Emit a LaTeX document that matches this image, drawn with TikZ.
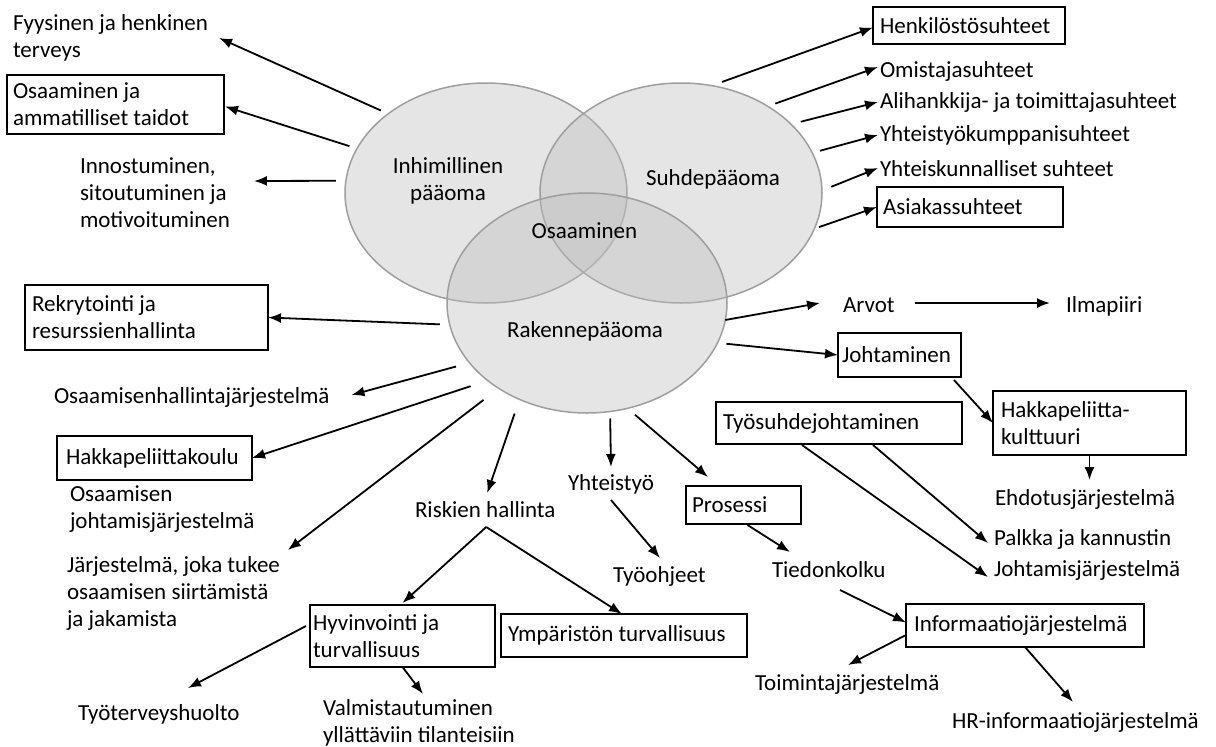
\documentclass[tikz,border=0pt]{standalone}
\usepackage{fontspec}
\setmainfont{Carlito}
\usetikzlibrary{arrows.meta,calc,shapes.geometric}
\definecolor{ellfill}{gray}{0.745}
\definecolor{elldraw}{gray}{0.62}
\newcommand{\mlL}[1]{\begin{tabular}[t]{@{}l@{}}#1\end{tabular}}
\newcommand{\mlC}[1]{\begin{tabular}[t]{@{}c@{}}#1\end{tabular}}
\begin{document}
\begin{tikzpicture}[x=1pt,y=-1pt,
  every node/.style={font=\fontsize{23}{27}\selectfont, inner sep=0pt, outer sep=0pt},
  txt/.style={anchor=base west},
  lbl/.style={anchor=base},
  bx/.style={draw, line width=2.2pt, anchor=north west, inner ysep=0pt, align=flush left},
  ell/.style={ellipse, draw=elldraw, line width=1.5pt, fill=ellfill, fill opacity=0.4,
              minimum width=282pt, minimum height=220pt},
  arr/.style={-{Latex[length=13pt,width=10pt]}, line width=1.8pt}]
\useasboundingbox (0,0) rectangle (1216,747);

% ellipses
\node[ell] (hum) at (486,193) {};
\node[ell] (suh) at (681,193) {};
\node[ell, minimum width=280pt] (rak) at (587,303) {};
\node[lbl] (humL) at (448,173) {\mlC{Inhimillinen\\pääoma}};
\node[lbl] (suhL) at (713,185) {Suhdepääoma};
\node[lbl] (osm) at (584.5,238) {Osaaminen};
\node[lbl] (rakL) at (585,337) {Rakennepääoma};

% left / human capital
\node[txt] (fyy) at (13,30) {\mlL{Fyysinen ja henkinen\\terveys}};
\node[bx, text width=205pt, inner xsep=6pt, minimum height=59pt] (osa) at (7,75) {Osaaminen ja\\ammatilliset taidot};
\node[txt] (inn) at (80,173) {\mlL{Innostuminen,\\sitoutuminen ja\\motivoituminen}};

% right / relational capital
\node[bx, text width=178pt, inner xsep=7pt, minimum height=37pt] (hen) at (873,7) {Henkilöstösuhteet};
\node[txt] (omi) at (880,77) {Omistajasuhteet};
\node[txt] (ali) at (880,108) {Alihankkija- ja toimittajasuhteet};
\node[txt] (yhk) at (880,141) {Yhteistyökumppanisuhteet};
\node[txt] (yhs) at (880,176) {Yhteiskunnalliset suhteet};
\node[bx, text width=174pt, inner xsep=6pt, minimum height=40pt] (asi) at (877,187) {Asiakassuhteet};

% structural capital, left and bottom
\node[bx, text width=229pt, inner xsep=7pt, minimum height=65pt] (rek) at (25,285) {Rekrytointi ja\\resurssienhallinta};
\node[txt] (ohj) at (54,403) {Osaamisenhallintajärjestelmä};
\node[bx, text width=177pt, inner xsep=9pt, minimum height=44pt] (hkk) at (57,436) {Hakkapeliittakoulu};
\node[txt] (osj) at (70,501) {\mlL{Osaamisen\\johtamisjärjestelmä}};
\node[txt] (jar) at (67,572) {\mlL{Järjestelmä, joka tukee\\osaamisen siirtämistä\\ja jakamista}};
\node[txt] (ris) at (415,517) {Riskien hallinta};
\node[bx, text width=179pt, inner xsep=3pt, minimum height=62pt] (hyv) at (310,605) {Hyvinvointi ja\\turvallisuus};
\node[bx, text width=232pt, inner xsep=7pt, minimum height=43pt] (ymp) at (501,614) {Ympäristön turvallisuus};
\node[txt] (tt) at (78,720) {Työterveyshuolto};
\node[txt] (val) at (323,715) {\mlL{Valmistautuminen\\yllättäviin tilanteisiin}};
\node[txt] (yht) at (568,490) {Yhteistyö};
\node[txt] (tyh) at (613,582) {Työohjeet};
\node[bx, text width=103pt, inner xsep=6pt, minimum height=38pt] (pro) at (686,486) {Prosessi};
\node[txt] (tie) at (772,577) {Tiedonkolku};
\node[bx, text width=232pt, inner xsep=7pt, minimum height=42pt] (tyo) at (716,402) {Työsuhdejohtaminen};
\node[txt] (pal) at (994,545) {Palkka ja kannustin};
\node[txt] (jms) at (994,576) {Johtamisjärjestelmä};
\node[bx, text width=222pt, inner xsep=8pt, minimum height=43pt] (inf) at (906,604) {Informaatiojärjestelmä};
\node[txt] (toi) at (755,690) {Toimintajärjestelmä};
\node[txt] (hr) at (952,728) {HR-informaatiojärjestelmä};

% structural capital, right
\node[txt] (arv) at (843,312) {Arvot};
\node[txt] (ilm) at (1066,312) {Ilmapiiri};
\node[bx, text width=115pt, inner xsep=4pt, minimum height=44pt] (joh) at (838,333) {Johtaminen};
\node[bx, text width=177pt, inner xsep=8pt, minimum height=64pt] (hkl) at (993,391) {Hakkapeliitta-\\kulttuuri};
\node[txt] (ehd) at (995,505) {Ehdotusjärjestelmä};

% arrows from human capital
\draw[arr, shorten <=8pt] (hum.141.9) -- ($(fyy.base east)+(11,8)$);
\draw[arr, shorten <=8pt] (hum.161.1) -- ($(osa.east)+(1,2)$);
\draw[arr, shorten <=10pt] (hum.175.5) -- ($(inn.base east)+(24,8)$);

% arrows from relational capital
\draw[arr, shorten <=11pt] (suh.74.8) -- ($(hen.west)+(0,2)$);
\draw[arr, shorten <=8pt] (suh.45.3) -- ($(omi.base west)+(-2,-10)$);
\draw[arr, shorten <=10pt] (suh.32.7) -- ($(ali.base west)+(-2,-6)$);
\draw[arr, shorten <=8pt] (suh.17.2) -- ($(yhk.base west)+(-2,-6)$);
\draw[arr, shorten <=10pt] (suh.1.9) -- ($(yhs.base west)+(-2,-8)$);
\draw[arr, shorten <=5pt] (suh.345.9) -- (asi.west);

% arrows from structural capital
\draw[arr, shorten <=10pt] (rak.189.9) -- (rek.east);
\draw[arr, shorten <=14pt] (rak.207.4) -- ($(ohj.base east)+(22,-8)$);
\draw[arr, shorten <=18pt] (rak.218) -- (hkk.east);
\draw[arr, shorten <=19pt] (rak.224.1) -- ($(jar.base east)+(8,-22)$);
\draw[arr, shorten <=15pt] (rak.235.1) -- ($(ris.base)+(2,-24)$);
\draw[arr, shorten <=7pt] (rak.282.3) -- ($(yht.base)+(0,-23)$);
\draw[arr, shorten <=10pt] (rak.291.4) -- ($(pro.north west)+(22,-9)$);
\draw[arr] (rak.353.4) -- ($(arv.base west)+(-23,-9)$);
\draw[arr, shorten <=9pt] (rak.343.7) -- (joh.west);

% secondary arrows
\draw[arr] ($(arv.base east)+(20,-9)$) -- ($(ilm.base west)+(-16,-9)$);
\draw[arr] ($(joh.south east)+(-7,3)$) -- (hkl.west);
\draw[arr, shorten >=9pt] (hkl.south) -- (hkl.south |- ehd.north);
\draw[arr] ($(tyo.south)+(34,1)$) -- ($(pal.base west)+(-6,-2)$);
\draw[arr] ($(tyo.south)+(-37,1)$) -- ($(jms.base west)+(-6,1)$);
\draw[arr] ($(pro.south)+(4,1)$) -- ($(tie.base west)+(18,-25)$);
\draw[arr] ($(yht.base)+(0,10)$) -- ($(tyh.base west)+(47,-24)$);
\draw[arr] ($(tie.base west)+(68,13)$) -- ($(inf.west)+(0,-3)$);
\draw[arr] ($(inf.west)+(-1,10)$) -- ($(toi.base west)+(93,-25)$);
\draw[arr] (inf.south) -- ($(hr.base west)+(121,-26)$);
\draw[arr] ($(ris.base)+(1,10)$) -- ($(hyv.north)+(0,-2)$);
\draw[arr] ($(ris.base)+(1,10)$) -- ($(ymp.north)+(-2,0)$);
\draw[arr] ($(hyv.west)+(-4,-10)$) -- ($(tt.base west)+(110,-32)$);
\draw[arr] (hyv.south) -- ($(val.base west)+(100,-21)$);
\end{tikzpicture}
\end{document}
